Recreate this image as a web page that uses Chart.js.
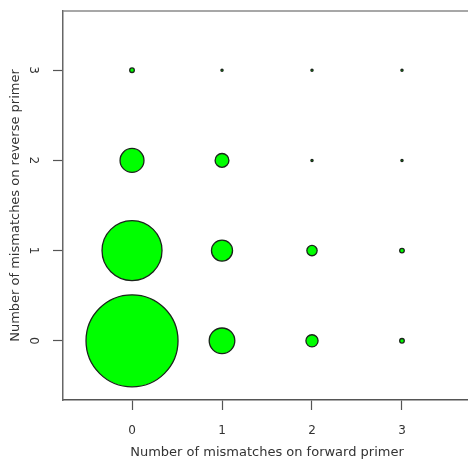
<!DOCTYPE html>
<html>
<head>
<meta charset="utf-8">
<script src="https://cdn.jsdelivr.net/npm/chart.js@4"></script>
<style>
  html, body { margin: 0; padding: 0; background: #fff; overflow: hidden; }
  #wrap { width: 468px; height: 459px; overflow: hidden; }
  canvas { display: block; }
</style>
</head>
<body>
<div id="wrap"><canvas id="bubbleChart" width="480" height="459"></canvas></div>
<script>
// mismatch counts, one array per forward-primer value, indexed by reverse-primer mismatches
const forwardMismatches = [0, 1, 2, 3];
const reverseMismatches = [0, 1, 2, 3];
const countsFwd0 = [400, 170, 27, 1];
const countsFwd1 = [31, 21, 9, 0];
const countsFwd2 = [7, 5, 0, 0];
const countsFwd3 = [1, 1, 0, 0];
const tickValues = [0, 1, 2, 3];

const xTitle = 'Number of mismatches on forward primer';
const yTitle = 'Number of mismatches on reverse primer';

document.addEventListener('DOMContentLoaded', function() {
    const allCounts = [countsFwd0, countsFwd1, countsFwd2, countsFwd3];
    const points = [];
    forwardMismatches.forEach((fwd, i) => {
        reverseMismatches.forEach((rev, j) => {
            points.push({ x: fwd, y: rev, n: allCounts[i][j] });
        });
    });

    // circle area ~ count, empty cells still show as a dot
    const radiusOf = n => Math.max(1.1, 2.3 * Math.sqrt(n));

    // top edge of the plot box (left/bottom come from the axes, right is cut off)
    const boxPlugin = {
        id: 'plotBox',
        afterDraw(chart) {
            const a = chart.chartArea;
            const ctx = chart.ctx;
            ctx.save();
            ctx.strokeStyle = '#8a8a8a';
            ctx.lineWidth = 1.5;
            ctx.beginPath();
            ctx.moveTo(a.left, a.top);
            ctx.lineTo(a.right, a.top);
            ctx.stroke();
            ctx.restore();
        }
    };

    const fixTicks = scale => {
        scale.ticks = tickValues.map(v => ({ value: v }));
    };
    const noEdgePadding = scale => {
        scale.paddingTop = 0;
        scale.paddingBottom = 0;
        scale.paddingLeft = 0;
        scale.paddingRight = 0;
    };

    new Chart(document.getElementById('bubbleChart').getContext('2d'), {
        type: 'bubble',
        data: {
            datasets: [{
                data: points.map(p => ({ x: p.x, y: p.y, r: radiusOf(p.n) })),
                backgroundColor: '#00ff00',
                borderColor: '#1a241a',
                borderWidth: 1.3,
                clip: false
            }]
        },
        options: {
            responsive: false,
            animation: false,
            events: [],
            layout: { autoPadding: false, padding: { top: 11, right: 9, left: 0, bottom: 0 } },
            plugins: {
                legend: { display: false },
                tooltip: { enabled: false }
            },
            scales: {
                x: {
                    type: 'linear',
                    min: -0.767,
                    max: 3.767,
                    afterBuildTicks: fixTicks,
                    afterFit: scale => { scale.height = 59; noEdgePadding(scale); },
                    border: { display: true, color: '#555', width: 1.5 },
                    grid: { drawOnChartArea: false, drawTicks: true, tickLength: 10, tickColor: '#555', tickWidth: 1.2 },
                    ticks: {
                        padding: 14,
                        color: '#333',
                        maxRotation: 0,
                        font: { family: 'DejaVu Sans', size: 12 }
                    },
                    title: {
                        display: true,
                        text: xTitle,
                        color: '#333',
                        padding: { top: 0, bottom: 0 },
                        font: { family: 'DejaVu Sans', size: 13, lineHeight: 1 }
                    }
                },
                y: {
                    type: 'linear',
                    min: -0.656,
                    max: 3.656,
                    afterBuildTicks: fixTicks,
                    afterFit: scale => { scale.width = 63; noEdgePadding(scale); },
                    border: { display: true, color: '#666', width: 1.5 },
                    grid: { drawOnChartArea: false, drawTicks: true, tickLength: 10, tickColor: '#555', tickWidth: 1.2 },
                    ticks: {
                        padding: 16,
                        color: '#333',
                        minRotation: -90,
                        maxRotation: -90,
                        crossAlign: 'center',
                        font: { family: 'DejaVu Sans', size: 12 }
                    },
                    title: {
                        display: true,
                        text: yTitle,
                        color: '#333',
                        padding: { top: 9.5, bottom: 0 },
                        font: { family: 'DejaVu Sans', size: 13, lineHeight: 1 }
                    }
                }
            }
        },
        plugins: [boxPlugin]
    });
});
</script>
</body>
</html>
